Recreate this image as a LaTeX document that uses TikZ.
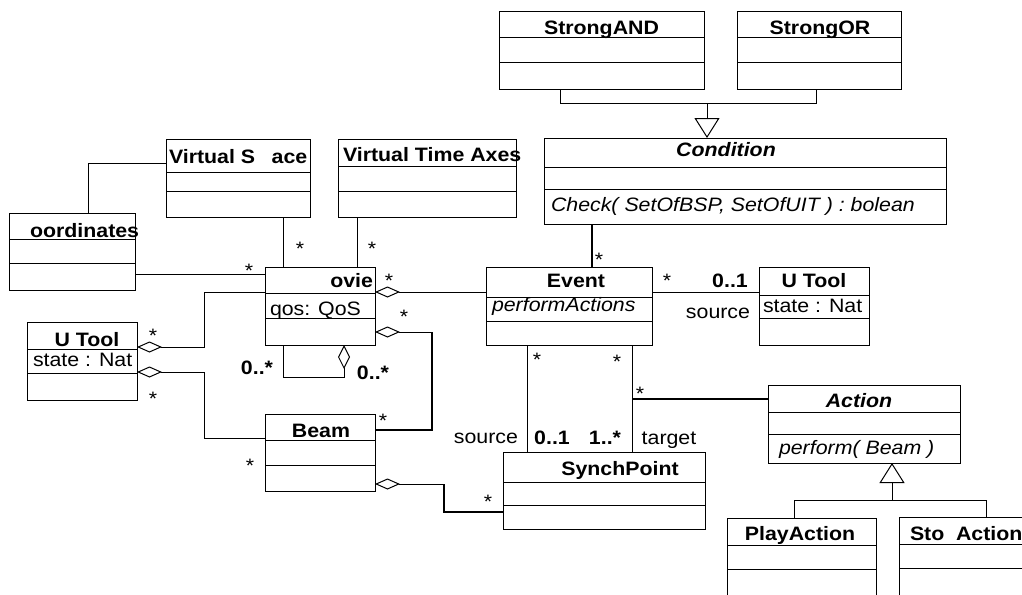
\documentclass[tikz,border=0pt]{standalone}
\usepackage{fontspec}
\setmainfont{Liberation Sans}[FakeStretch=1.1]
\usetikzlibrary{arrows.meta}
\newcommand\dfont{\fontsize{19.4}{23}\selectfont}
\tikzset{
  cls/.style={draw, line width=1pt, inner sep=0pt, outer sep=0pt},
  sepline/.style={line width=1pt},
  assoc/.style={line width=1pt},
  strong/.style={line width=2pt},
  agg/.style={line width=1pt, {Diamond[open,length=25pt,width=11pt]}-},
  vagg/.style={line width=1pt, {Diamond[open,length=24pt,width=12pt]}-},
  gen/.style={line width=1pt, -{Triangle[open,length=20pt,width=25pt]}},
  txt/.style={font=\dfont, inner sep=0pt, outer sep=0pt},
  ttl/.style={font=\dfont\bfseries, inner sep=0pt, outer sep=0pt},
  ittl/.style={font=\dfont\bfseries\itshape, inner sep=0pt, outer sep=0pt},
  itxt/.style={font=\dfont\itshape, inner sep=0pt, outer sep=0pt},
  mult/.style={font=\dfont\bfseries, inner sep=0pt, outer sep=0pt, anchor=base},
  star/.style={font=\dfont, inner sep=0pt, outer sep=0pt, anchor=base},
}
\newcommand\umlclass[7]{%
  \node[cls, anchor=north west, minimum width={(#4-#2)*1pt}, minimum height={(#5-#3)*1pt}] (#1) at (#2,#3) {};
  \draw[sepline] (#2,#6) -- (#4,#6);
  \draw[sepline] (#2,#7) -- (#4,#7);
}
\begin{document}
\begin{tikzpicture}[x=1pt,y=-1pt]
\fill[white] (0,0) rectangle (1022,594);
\useasboundingbox (0,0) rectangle (1022,594);

% classes
\umlclass{sa}{499}{12}{704}{89}{38}{63}
\umlclass{so}{737}{12}{901}{89}{38}{63}
\umlclass{cond}{544}{138}{946}{224}{167}{189}
\umlclass{vs}{166}{139}{310}{217}{172}{191}
\umlclass{vta}{338}{139}{516}{217}{166}{191}
\umlclass{co}{9}{213}{135}{290}{239}{263}
\umlclass{mv}{265}{267}{375}{345}{293}{318}
\umlclass{uta}{27}{322}{137}{400}{349}{373}
\umlclass{bm}{265}{414}{375}{491}{440}{465}
\umlclass{ev}{486}{267}{652}{345}{297}{321}
\umlclass{utb}{759}{267}{869}{345}{295}{318}
\umlclass{sp}{503}{452}{705}{529}{482}{505}
\umlclass{ac}{768}{385}{960}{463}{412}{434}
\umlclass{pa}{727}{518}{876}{612}{545}{569}
\umlclass{st}{899}{517}{1045}{612}{544}{568}

% class texts
\node[ttl, anchor=base] (tsa) at (601.5,35) {StrongAND};
\node[ttl, anchor=base] (tso) at (820,35) {StrongOR};
\node[ittl, anchor=base] (tcond) at (726,156) {Condition};
\node[itxt, anchor=base west] (tcheck) at (551,211) {Check( SetOfBSP, SetOfUIT ) : bolean};
\node[ttl, anchor=base west] (tvs) at (169,163) {Virtual S\hspace{0.85em}ace};
\node[ttl, anchor=base west] (tvta) at (343,161) {Virtual Time Axes};
\node[ttl, anchor=base west] (tco) at (30,237) {oordinates};
\node[ttl, anchor=base east] (tmv) at (373,287) {ovie};
\node[txt, anchor=base west] (tqos) at (270,315) {qos: QoS};
\node[ttl, anchor=base] (tuta) at (87,346) {U Tool};
\node[txt, anchor=base west] (tsta) at (33,366) {state : Nat};
\node[ttl, anchor=base] (tbm) at (321,437) {Beam};
\node[ttl, anchor=base] (tev) at (576,287) {Event};
\node[itxt, anchor=base west] (tpa) at (492,311) {performActions};
\node[ttl, anchor=base] (tutb) at (814,287) {U Tool};
\node[txt, anchor=base west] (tstb) at (763,312) {state : Nat};
\node[ttl, anchor=base] (tsp) at (620,475) {SynchPoint};
\node[ittl, anchor=base] (tac) at (859,407) {Action};
\node[itxt, anchor=base west] (tperf) at (779,454) {perform( Beam )};
\node[ttl, anchor=base] (tpla) at (800,540) {PlayAction};
\node[ttl, anchor=base west] (tsto) at (910,540) {Sto\hspace{0.6em}Action};

% generalization StrongAND/StrongOR -> Condition
\coordinate (gA) at (560,103);
\coordinate (gB) at (816,103);
\coordinate (gC) at (707,103);
\draw[assoc] (gA |- sa.south) -- (gA) -- (gB) -- (gB |- so.south);
\draw[gen] (gC) -- (gC |- cond.north);

% Condition -> Event
\coordinate (ce) at (592,0);
\draw[strong] (ce |- cond.south) -- (ce |- ev.north);
\node[star] (s1) at (599,266) {*};

% Virtual Space -> Coordinates
\coordinate (vc) at (88,163);
\draw[assoc] (vc -| vs.west) -- (vc) -- (vc |- co.north);

% Virtual Space -> Movie
\coordinate (vm) at (283,0);
\draw[assoc] (vm |- vs.south) -- (vm |- mv.north);
\node[star] (s2) at (300,255) {*};

% Virtual Time Axes -> Movie
\coordinate (tm) at (357,0);
\draw[assoc] (tm |- vta.south) -- (tm |- mv.north);
\node[star] (s3) at (372,255) {*};

% Coordinates -> Movie
\coordinate (cm) at (0,274);
\draw[assoc] (cm -| co.east) -- (cm -| mv.west);
\node[star] (s4) at (249,277) {*};

% Movie <>- Event
\coordinate (me) at (0,292);
\draw[agg] (me -| mv.east) -- (me -| ev.west);
\node[star] (s5) at (389,287) {*};

% Movie <>- Beam
\coordinate (mb1) at (432,332);
\coordinate (mb2) at (432,430);
\draw[agg] (mb1 -| mv.east) -- (mb1);
\draw[strong, line join=miter] (mb1) -- (mb2) -- (mb2 -| bm.east);
\node[star] (s6) at (404,323) {*};
\node[star] (s7) at (383,427) {*};

% Movie self aggregation
\coordinate (ms1) at (283,377);
\coordinate (ms2) at (344,377);
\draw[vagg] (ms2 |- mv.south) -- (ms2) -- (ms1) -- (ms1 |- mv.south);
\node[mult] (m1) at (257,374) {0..*};
\node[mult] (m2) at (373,379) {0..*};

% U Tool <>- Movie
\coordinate (um1) at (204,347);
\coordinate (um2) at (204,292);
\draw[agg] (um1 -| uta.east) -- (um1) -- (um2) -- (um2 -| mv.west);
\node[star] (s8) at (153,342) {*};

% U Tool <>- Beam
\coordinate (ub1) at (204,372);
\coordinate (ub2) at (204,438);
\draw[agg] (ub1 -| uta.east) -- (ub1) -- (ub2) -- (ub2 -| bm.west);
\node[star] (s9) at (153,405) {*};
\node[star] (s10) at (250,472) {*};

% Beam <>- SynchPoint
\coordinate (bs1) at (444,484);
\coordinate (bs2) at (444,512);
\draw[agg] (bs1 -| bm.east) -- (bs1);
\draw[strong, line join=miter] (bs1) -- (bs2) -- (bs2 -| sp.west);
\node[star] (s11) at (488,508) {*};

% Event -> SynchPoint (source / target)
\coordinate (es1) at (527,0);
\coordinate (es2) at (632,0);
\draw[assoc] (es1 |- ev.south) -- (es1 |- sp.north);
\draw[assoc] (es2 |- ev.south) -- (es2 |- sp.north);
\node[star] (s12) at (537,366) {*};
\node[star] (s13) at (617,368) {*};
\node[txt, anchor=base east] (lsrc1) at (518,443) {source};
\node[mult] (m3) at (552,444) {0..1};
\node[mult] (m4) at (605,444) {1..*};
\node[txt, anchor=base] (ltgt) at (669,444) {target};

% Event -> Action
\coordinate (ea) at (632,399);
\draw[strong] (ea) -- (ea -| ac.west);
\node[star] (s14) at (640,400) {*};

% Event -> U Tool
\coordinate (eu) at (0,292);
\draw[assoc] (eu -| ev.east) -- (eu -| utb.west);
\node[star] (s15) at (667,287) {*};
\node[mult] (m5) at (730,287) {0..1};
\node[txt, anchor=base] (lsrc2) at (718,318) {source};

% generalization PlayAction/StopAction -> Action
\coordinate (ag) at (892,500);
\coordinate (ap) at (794,500);
\coordinate (as) at (986,500);
\draw[gen] (ag) -- (ag |- ac.south);
\draw[assoc] (ap |- pa.north) -- (ap) -- (as) -- (as |- st.north);
\end{tikzpicture}
\end{document}
